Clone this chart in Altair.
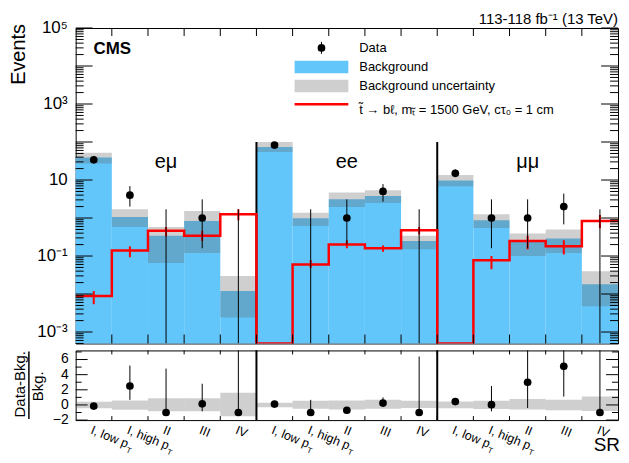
import altair as alt
import pandas as pd

# ---------------- data ----------------
channels = ["eμ", "ee", "μμ"]
sr_labels = ["I, low p_T", "I, high p_T", "II", "III", "IV"]

bkg    = [39, 1.07, 0.34, 0.83, 0.012,   74, 0.98, 3.1, 3.8, 0.25,   9.7, 0.87, 0.25, 0.29, 0.018]
bkg_lo = [27, 0.58, 0.066, 0.12, 0.0024, 55, 0.62, 1.95, 2.5, 0.15,  6.9, 0.55, 0.10, 0.12, 0.0048]
bkg_hi = [52, 1.7, 0.58, 1.52, 0.03,     100, 1.38, 4.7, 5.4, 0.34,  13.5, 1.25, 0.39, 0.50, 0.04]

signal = [0.0089, 0.14, 0.46, 0.34, 1.25,  0, 0.06, 0.20, 0.16, 0.48,  0, 0.077, 0.25, 0.18, 0.83]
sig_lo = [0.0054, 0.093, 0.33, 0.25, 0.87, 0, 0.048, 0.16, 0.13, 0.37, 0, 0.045, 0.15, 0.11, 0.54]
sig_hi = [0.012, 0.18, 0.58, 0.46, 1.7,    0, 0.078, 0.26, 0.19, 0.58, 0, 0.10, 0.34, 0.26, 1.2]

data    = [34, 4, 0, 1, 0,        83, 0, 1, 5, 0,        15, 1, 1, 2, 0]
data_lo = [29, 2.0, 0, 0.16, 0,   75, 0, 0.2, 2.7, 0,    12, 0.16, 0.16, 0.68, 0]
data_hi = [40, 6.9, 1.7, 3.1, 1.7, 92, 1.7, 3.1, 7.8, 1.7, 19, 3.1, 3.1, 4.4, 1.7]

ratio    = [-0.15, 2.5, -1, 0.15, -1,   0.12, -1, -0.7, 0.25, -1,   0.45, 0.03, 3.0, 5.1, -1]
ratio_lo = [-0.3, 0.67, -1, -0.84, -1,  0.0, -1, -0.8, -0.2, -1,    0.25, -0.84, -0.4, 1.1, -1]
ratio_hi = [0.0, 5.2, 4.8, 2.8, 9,      0.24, 0.67, -0.6, 1.0, 6.4, 0.65, 2.5, 9, 9, 9]
band_lo  = [-0.43, -0.62, -0.84, -0.84, -1.5,  -0.3, -0.5, -0.6, -0.5, -0.4,  -0.45, -0.55, -0.6, -0.7, -0.8]
band_hi  = [0.43, 0.58, 0.9, 0.9, 1.6,         0.3, 0.55, 0.6, 0.7, 0.55,     0.45, 0.55, 0.8, 0.7, 1.1]

channel_edges = [5, 10]
divider_top = 100

ylog_ticks = [1e-3, 1e-1, 10, 1e3, 1e5]
ylog_labels = ["10⁻³", "10⁻¹", "10\u2002", "10³", "10⁵"]
ratio_ticks = [-2, 0, 2, 4, 6]
ratio_labels = ["−2", "0", "2", "4", "6"]

lumi_text = "113-118 fb⁻¹ (13 TeV)"
legend_texts = ["Data", "Background", "Background uncertainty",
                "t̃ → bℓ, mₜ̃ = 1500 GeV, cτ₀ = 1 cm"]

# ---------------- style ----------------
FONT = "Liberation Sans"
BLUE = "#63c6fb"
GRAY = "#5f5f5f"
GOP = 0.3
W, H1, H2 = 545, 317, 70
YMIN, YMAX = 5e-4, 1e5
RMIN, RMAX = -2, 7.2
n = len(bkg)

xs = alt.Scale(domain=[0, n], nice=False, zero=False)
ys = alt.Scale(type="log", domain=[YMIN, YMAX], nice=False)
rs = alt.Scale(domain=[RMIN, RMAX], nice=False, zero=False)

def X(f):
    return alt.X(f, type="quantitative", scale=xs, axis=None)

def Y(f):
    return alt.Y(f, type="quantitative", scale=ys, axis=None)

def R(f):
    return alt.Y(f, type="quantitative", scale=rs, axis=None)

bins = pd.DataFrame({
    "x0": list(range(n)), "x1": [i + 1 for i in range(n)], "xc": [i + 0.5 for i in range(n)],
    "bkg": bkg, "blo": bkg_lo, "bhi": bkg_hi,
    "sig": signal, "slo": sig_lo, "shi": sig_hi,
    "data": data, "dlo": [max(v, YMIN) for v in data_lo], "dhi": data_hi,
    "ratio": ratio, "rlo": ratio_lo, "rhi": ratio_hi,
    "rblo": band_lo, "rbhi": band_hi,
    "lab": [l.replace("_T", "") for l in sr_labels] * 3,
    "sub": ["T" if "_T" in l else "" for l in sr_labels] * 3,
})
step = pd.DataFrame({"x": list(range(n + 1)),
                     "y": [max(s, YMIN) for s in signal] + [max(signal[-1], YMIN)]})
divs = pd.DataFrame({"x": channel_edges, "top": [divider_top] * len(channel_edges)})
chan = pd.DataFrame({"x": [5 * i + 2.5 for i in range(len(channels))], "t": channels})
one = pd.DataFrame({"a": [0]})

maj = [10.0 ** k for k in range(-3, 6)]
mnr = [m * 10.0 ** k for k in range(-4, 5) for m in range(2, 10) if YMIN <= m * 10.0 ** k <= YMAX]
ymaj = pd.DataFrame({"v": maj})
ymin_ = pd.DataFrame({"v": mnr})
xt = pd.DataFrame({"x": list(range(1, n))})
ylab = pd.DataFrame({"v": ylog_ticks, "t": ylog_labels})
rmaj = pd.DataFrame({"v": ratio_ticks, "t": ratio_labels})
rmin_ = pd.DataFrame({"v": [v + 1 for v in ratio_ticks]})


def txt(s, x, y, size, **kw):
    return alt.Chart(one).mark_text(text=s, font=FONT, fontSize=size, color="black", **kw).encode(
        x=alt.value(x), y=alt.value(y))


# ---------------- upper panel ----------------
up = []
up.append(alt.Chart(bins).mark_rect(color=BLUE).encode(x=X("x0"), x2="x1", y=Y("bkg"), y2=alt.value(H1)))
up.append(alt.Chart(bins).mark_rect(color=GRAY, opacity=GOP).encode(x=X("x0"), x2="x1", y=Y("blo"), y2="bhi"))
up.append(alt.Chart(divs).mark_rule(color="black", strokeWidth=2).encode(x=X("x"), y=Y("top"), y2=alt.value(H1)))
up.append(alt.Chart(step).mark_line(interpolate="step-after", color="#ff0000", strokeWidth=2.5, clip=True)
          .encode(x=X("x"), y=Y("y")))
up.append(alt.Chart(bins).transform_filter("datum.sig > 0").mark_rule(color="#ff0000", strokeWidth=2)
          .encode(x=X("xc"), y=Y("slo"), y2="shi"))
up.append(alt.Chart(bins).mark_rule(color="black", strokeWidth=1, clip=True).encode(x=X("xc"), y=Y("dlo"), y2="dhi"))
up.append(alt.Chart(bins).transform_filter("datum.data > 0").mark_circle(color="black", size=60, opacity=1)
          .encode(x=X("xc"), y=Y("data")))
up.append(alt.Chart(chan).mark_text(font=FONT, fontSize=20, baseline="alphabetic", color="black")
          .encode(x=X("x"), y=alt.value(141), text="t:N"))
# ticks
up.append(alt.Chart(ymaj).mark_rule(color="black").encode(y=Y("v"), x=alt.value(0), x2=alt.value(17)))
up.append(alt.Chart(ymin_).mark_rule(color="black").encode(y=Y("v"), x=alt.value(0), x2=alt.value(8)))
up.append(alt.Chart(ymaj).mark_rule(color="black").encode(y=Y("v"), x=alt.value(W - 17), x2=alt.value(W)))
up.append(alt.Chart(ymin_).mark_rule(color="black").encode(y=Y("v"), x=alt.value(W - 8), x2=alt.value(W)))
up.append(alt.Chart(xt).mark_rule(color="black").encode(x=X("x"), y=alt.value(0), y2=alt.value(8)))
up.append(alt.Chart(xt).mark_rule(color="black").encode(x=X("x"), y=alt.value(H1 - 9), y2=alt.value(H1)))
up.append(alt.Chart(ylab).mark_text(font=FONT, fontSize=17, align="right", baseline="middle", color="black")
          .encode(y=Y("v"), x=alt.value(-8), text="t:N"))
up.append(txt("Events", -57, -4, 20, angle=270, align="right", baseline="middle"))
up.append(txt("CMS", 18, 21, 17, fontWeight="bold", align="left", baseline="middle"))
up.append(txt(lumi_text, W, -4, 15, align="right", baseline="alphabetic"))
# legend
up.append(alt.Chart(one).mark_rule(color="black").encode(x=alt.value(247), y=alt.value(14), y2=alt.value(26)))
up.append(alt.Chart(one).mark_circle(color="black", size=60, opacity=1).encode(x=alt.value(247), y=alt.value(20)))
up.append(alt.Chart(one).mark_rect(color=BLUE).encode(x=alt.value(220), x2=alt.value(274), y=alt.value(33), y2=alt.value(45.5)))
up.append(alt.Chart(one).mark_rect(color=GRAY, opacity=GOP).encode(x=alt.value(220), x2=alt.value(274), y=alt.value(52), y2=alt.value(64.5)))
up.append(alt.Chart(one).mark_rule(color="#ff0000", strokeWidth=2.5).encode(x=alt.value(220), x2=alt.value(274), y=alt.value(76.5)))
for t, yy in zip(legend_texts, [20, 39.5, 58, 82]):
    up.append(txt(t, 285, yy, 13, align="left", baseline="middle"))

upper = alt.layer(*up).properties(width=W, height=H1)

# ---------------- lower panel ----------------
lo = []
lo.append(alt.Chart(bins).mark_rect(color=GRAY, opacity=GOP).encode(x=X("x0"), x2="x1", y=R("rblo"), y2="rbhi"))
lo.append(alt.Chart(divs).mark_rule(color="black", strokeWidth=2).encode(x=X("x"), y=alt.value(0), y2=alt.value(H2)))
lo.append(alt.Chart(bins).mark_rule(color="black", strokeWidth=1, clip=True).encode(x=X("xc"), y=R("rlo"), y2="rhi"))
lo.append(alt.Chart(bins).mark_circle(color="black", size=60, opacity=1).encode(x=X("xc"), y=R("ratio")))
lo.append(alt.Chart(rmaj).mark_rule(color="black").encode(y=R("v"), x=alt.value(0), x2=alt.value(12)))
lo.append(alt.Chart(rmin_).mark_rule(color="black").encode(y=R("v"), x=alt.value(0), x2=alt.value(6)))
lo.append(alt.Chart(rmaj).mark_rule(color="black").encode(y=R("v"), x=alt.value(W - 12), x2=alt.value(W)))
lo.append(alt.Chart(rmin_).mark_rule(color="black").encode(y=R("v"), x=alt.value(W - 6), x2=alt.value(W)))
lo.append(alt.Chart(xt).mark_rule(color="black").encode(x=X("x"), y=alt.value(0), y2=alt.value(4)))
lo.append(alt.Chart(xt).mark_rule(color="black").encode(x=X("x"), y=alt.value(H2 - 4), y2=alt.value(H2)))
lo.append(alt.Chart(rmaj).mark_text(font=FONT, fontSize=14, align="right", baseline="middle", color="black")
          .encode(y=R("v"), x=alt.value(-7), text="t:N"))
lo.append(txt("Data-Bkg.", -56, 34, 15, angle=270, align="center", baseline="middle"))
lo.append(txt("Bkg.", -38, 36, 15, angle=270, align="center", baseline="middle"))
lo.append(alt.Chart(one).mark_rule(color="black", strokeWidth=1.5).encode(x=alt.value(-47), y=alt.value(1), y2=alt.value(69)))
lo.append(alt.Chart(bins).mark_text(font=FONT, fontSize=12.5, align="left", baseline="top", angle=22, color="black")
          .encode(x=X("xc"), y=alt.value(H2 + 4), text="lab:N"))
lo.append(alt.Chart(bins).transform_filter("datum.lab == 'I, low p'")
          .mark_text(font=FONT, fontSize=8, align="left", baseline="top", angle=22, dx=40, dy=8, color="black")
          .encode(x=X("xc"), y=alt.value(H2 + 4), text="sub:N"))
lo.append(alt.Chart(bins).transform_filter("datum.lab == 'I, high p'")
          .mark_text(font=FONT, fontSize=8, align="left", baseline="top", angle=22, dx=45, dy=8, color="black")
          .encode(x=X("xc"), y=alt.value(H2 + 4), text="sub:N"))
lo.append(txt("SR", W + 2, H2 + 31, 19, align="right", baseline="alphabetic"))

lower = alt.layer(*lo).properties(width=W, height=H2)

chart = (alt.vconcat(upper, lower, spacing=7, bounds="flush")
         .resolve_scale(x="independent", y="independent")
         .properties(padding={"left": 0, "top": 2, "right": 0, "bottom": 0})
         .configure_view(stroke="black", strokeWidth=1))

chart.save("out.html", embed_options={"renderer": "svg", "actions": False})
